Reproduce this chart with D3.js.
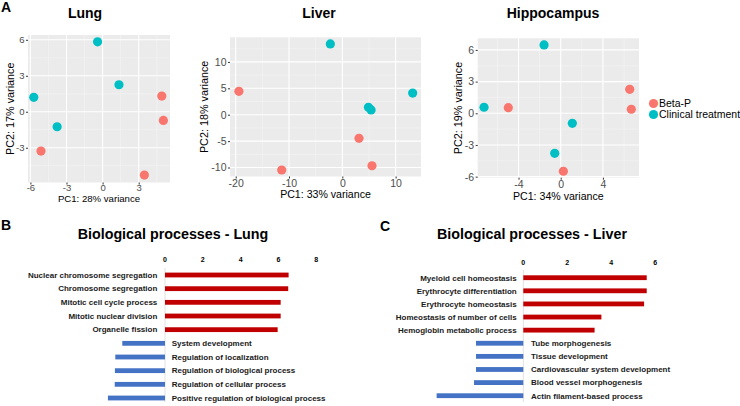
<!DOCTYPE html>
<html><head><meta charset="utf-8">
<script src="https://cdn.jsdelivr.net/npm/d3@7"></script>
<style>body{margin:0;background:#fff}svg{display:block;font-family:"Liberation Sans",Arial,sans-serif}</style>
</head><body><svg id="c" width="740" height="406"></svg>
<script>
// ---- Data: PCA points [PC1, PC2] ----
const lungBeta = [[4.92,1.31],[5.05,-0.72],[-5.12,-3.28],[3.47,-5.28]];
const lungClinical = [[-0.42,5.83],[1.36,2.25],[-5.72,1.2],[-3.78,-1.25]];
const liverBeta = [[-19.4,4.43],[3.13,-4.47],[5.57,-9.66],[-11.37,-10.47]];
const liverClinical = [[-2.25,13.4],[13.2,4.1],[4.9,1.4],[5.4,0.9]];
const hippoBeta = [[-4.97,0.53],[6.54,2.27],[6.69,0.38],[0.25,-5.49]];
const hippoClinical = [[-1.58,6.47],[-7.27,0.57],[1.1,-0.95],[-0.57,-3.79]];
const lungXTicks = [-6,-3,0,3], lungYTicks = [-3,0,3,6];
const liverXTicks = [-20,-10,0,10], liverYTicks = [-10,-5,0,5,10];
const hippoXTicks = [-4,0,4], hippoYTicks = [-6,-3,0,3,6];
const legendLabels = ["Beta-P","Clinical treatment"];

// ---- Data: GO bar charts ----
const lungUpTerms = ["Nuclear chromosome segregation","Chromosome segregation","Mitotic cell cycle process","Mitotic nuclear division","Organelle fission"];
const lungUpValues = [6.54,6.52,6.12,6.12,5.96];
const lungDownTerms = ["System development","Regulation of localization","Regulation of biological process","Regulation of cellular process","Positive regulation of biological process"];
const lungDownValues = [-2.26,-2.63,-2.65,-2.66,-3.02];
const lungBarTicks = [0,2,4,6,8];
const liverUpTerms = ["Myeloid cell homeostasis","Erythrocyte differentiation","Erythrocyte homeostasis","Homeostasis of number of cells","Hemoglobin metabolic process"];
const liverUpValues = [5.61,5.61,5.49,3.55,3.24];
const liverDownTerms = ["Tube morphogenesis","Tissue development","Cardiovascular system development","Blood vessel morphogenesis","Actin filament-based process"];
const liverDownValues = [-2.15,-2.15,-2.15,-2.24,-3.94];
const liverBarTicks = [0,2,4,6];

const RED = "#F8766D", TEAL = "#00BFC4";
const svg = d3.select("#c");

function pca(o){
  const x = d3.scaleLinear().domain(o.xd).range(o.xr);
  const y = d3.scaleLinear().domain(o.yd).range(o.yr);
  const g = svg.append("g");
  g.append("rect").attr("x",o.xr[0]).attr("y",o.yr[1]).attr("width",o.xr[1]-o.xr[0]).attr("height",o.yr[0]-o.yr[1]).attr("fill","#EBEBEB");
  const xs = o.xt[1]-o.xt[0], ys = o.yt[1]-o.yt[0];
  const xmin = [], ymin = [];
  for(let v=o.xt[0]-xs/2; v<=o.xd[1]; v+=xs) if(v>=o.xd[0]) xmin.push(v);
  for(let v=o.yt[0]-ys/2; v<=o.yd[1]; v+=ys) if(v>=o.yd[0]) ymin.push(v);
  g.selectAll(".xm").data(xmin).join("line").attr("x1",d=>x(d)).attr("x2",d=>x(d)).attr("y1",o.yr[0]).attr("y2",o.yr[1]).attr("stroke","#F5F5F5").attr("stroke-width",0.6);
  g.selectAll(".ym").data(ymin).join("line").attr("y1",d=>y(d)).attr("y2",d=>y(d)).attr("x1",o.xr[0]).attr("x2",o.xr[1]).attr("stroke","#F5F5F5").attr("stroke-width",0.6);
  g.selectAll(".xg").data(o.xt).join("line").attr("x1",d=>x(d)).attr("x2",d=>x(d)).attr("y1",o.yr[0]).attr("y2",o.yr[1]).attr("stroke","#fff").attr("stroke-width",1.1);
  g.selectAll(".yg").data(o.yt).join("line").attr("y1",d=>y(d)).attr("y2",d=>y(d)).attr("x1",o.xr[0]).attr("x2",o.xr[1]).attr("stroke","#fff").attr("stroke-width",1.1);
  const ax = d3.axisBottom(x).tickValues(o.xt).tickSize(2).tickFormat(d=>String(d));
  const ay = d3.axisLeft(y).tickValues(o.yt).tickSize(2).tickPadding(1.5).tickFormat(d=>String(d));
  const gx = g.append("g").attr("transform",`translate(0,${o.yr[0]})`).call(ax);
  const gy = g.append("g").attr("transform",`translate(${o.xr[0]},0)`).call(ay);
  [gx,gy].forEach(a=>{a.select(".domain").remove();a.selectAll("line").attr("stroke","#333");a.selectAll("text").attr("fill","#4D4D4D").attr("font-size",o.tf).attr("font-family",null);});
  gx.selectAll("text").attr("y",o.tickBase-o.yr[0]).attr("dy",null);
  g.selectAll(".pb").data(o.beta).join("circle").attr("cx",d=>x(d[0])).attr("cy",d=>y(d[1])).attr("r",4.6).attr("fill",RED);
  g.selectAll(".pc").data(o.clin).join("circle").attr("cx",d=>x(d[0])).attr("cy",d=>y(d[1])).attr("r",4.6).attr("fill",TEAL);
  const cx = (o.xr[0]+o.xr[1])/2, cy=(o.yr[0]+o.yr[1])/2;
  g.append("text").attr("x",cx).attr("y",o.xlBase).attr("text-anchor","middle").attr("font-size",o.xf).text(o.xl);
  g.append("text").attr("transform",`translate(${o.ylx},${cy}) rotate(-90)`).attr("text-anchor","middle").attr("font-size",10.8).text(o.yl);
  g.append("text").attr("x",o.tx).attr("y",18).attr("text-anchor","middle").attr("font-size",14).attr("font-weight","bold").text(o.title);
}
pca({xr:[28,170],yr:[182.5,35],xd:[-6.2,5.6],yd:[-5.9,6.4],xt:lungXTicks,yt:lungYTicks,beta:lungBeta,clin:lungClinical,xl:"PC1: 28% variance",yl:"PC2: 17% variance",ylx:14,title:"Lung",tx:85,tf:9.5,xf:9.6,tickBase:190.5,xlBase:201.5});
pca({xr:[230,421],yr:[176.5,37.3],xd:[-21.07,14.76],yd:[-11.7,14.66],xt:liverXTicks,yt:liverYTicks,beta:liverBeta,clin:liverClinical,xl:"PC1: 33% variance",yl:"PC2: 18% variance",ylx:208,title:"Liver",tx:319,tf:10.5,xf:10.6,tickBase:187,xlBase:198});
pca({xr:[477.7,639],yr:[177.7,38.3],xd:[-7.87,7.42],yd:[-6.1,7.1],xt:hippoXTicks,yt:hippoYTicks,beta:hippoBeta,clin:hippoClinical,xl:"PC1: 34% variance",yl:"PC2: 19% variance",ylx:462,title:"Hippocampus",tx:553,tf:10.5,xf:10.6,tickBase:188,xlBase:199.5});

// legend
const lg = svg.append("g");
lg.selectAll("circle").data(legendLabels).join("circle").attr("cx",653.5).attr("cy",(d,i)=>103.5+i*11).attr("r",4.6).attr("fill",(d,i)=>i?TEAL:RED);
lg.selectAll("text").data(legendLabels).join("text").attr("x",659).attr("y",(d,i)=>107.3+i*11).attr("font-size",10.5).text(d=>d);

// panel letters
[["A",1,12],["B",1,230],["C",380,231]].forEach(([t,x,y])=>svg.append("text").attr("x",x).attr("y",y).attr("font-size",14).attr("font-weight","bold").text(t));

function bars(o){
  const g = svg.append("g");
  const x = d3.scaleLinear().domain([0,o.ticks[o.ticks.length-1]]).range([o.x0,o.x1]);
  const terms = o.upT.concat(o.downT);
  const y = d3.scalePoint().domain(terms).range(o.yr);
  g.append("text").attr("x",o.tx).attr("y",239).attr("text-anchor","middle").attr("font-size",14.3).attr("font-weight","bold").text(o.title);
  g.selectAll(".t").data(o.ticks).join("text").attr("x",d=>x(d)).attr("y",o.tickY).attr("text-anchor","middle").attr("font-size",7).attr("font-weight","bold").text(d=>d);
  g.append("line").attr("x1",x(0)).attr("x2",x(0)).attr("y1",o.ay[0]).attr("y2",o.ay[1]).attr("stroke","#D9D9D9").attr("stroke-width",0.8);
  const bh = 4.8;
  g.selectAll(".u").data(o.upV).join("rect").attr("x",x(0)).attr("y",(d,i)=>y(o.upT[i])-bh/2).attr("width",d=>x(d)-x(0)).attr("height",bh).attr("fill","#C00000");
  g.selectAll(".d").data(o.downV).join("rect").attr("x",d=>x(d)).attr("y",(d,i)=>y(o.downT[i])-bh/2).attr("width",d=>x(0)-x(d)).attr("height",bh).attr("fill","#4472C4");
  g.selectAll(".ul").data(o.upT).join("text").attr("x",x(0)-o.lpad).attr("y",d=>y(d)).attr("dy","0.35em").attr("text-anchor","end").attr("font-size",8).attr("font-weight","bold").attr("fill","#1a1a1a").text(d=>d);
  g.selectAll(".dl").data(o.downT).join("text").attr("x",x(0)+o.rpad).attr("y",d=>y(d)).attr("dy","0.35em").attr("font-size",8).attr("font-weight","bold").attr("fill","#1a1a1a").text(d=>d);
}
bars({upT:lungUpTerms,upV:lungUpValues,downT:lungDownTerms,downV:lungDownValues,ticks:lungBarTicks,x0:165,x1:316.2,yr:[275,398],ay:[268,402],tickY:261.5,title:"Biological processes - Lung",tx:173,lpad:7.7,rpad:6.7});
bars({upT:liverUpTerms,upV:liverUpValues,downT:liverDownTerms,downV:liverDownValues,ticks:liverBarTicks,x0:523.3,x1:655.3,yr:[277.7,395.7],ay:[270,402],tickY:264.5,title:"Biological processes - Liver",tx:532,lpad:6.6,rpad:7.7});
</script></body></html>
